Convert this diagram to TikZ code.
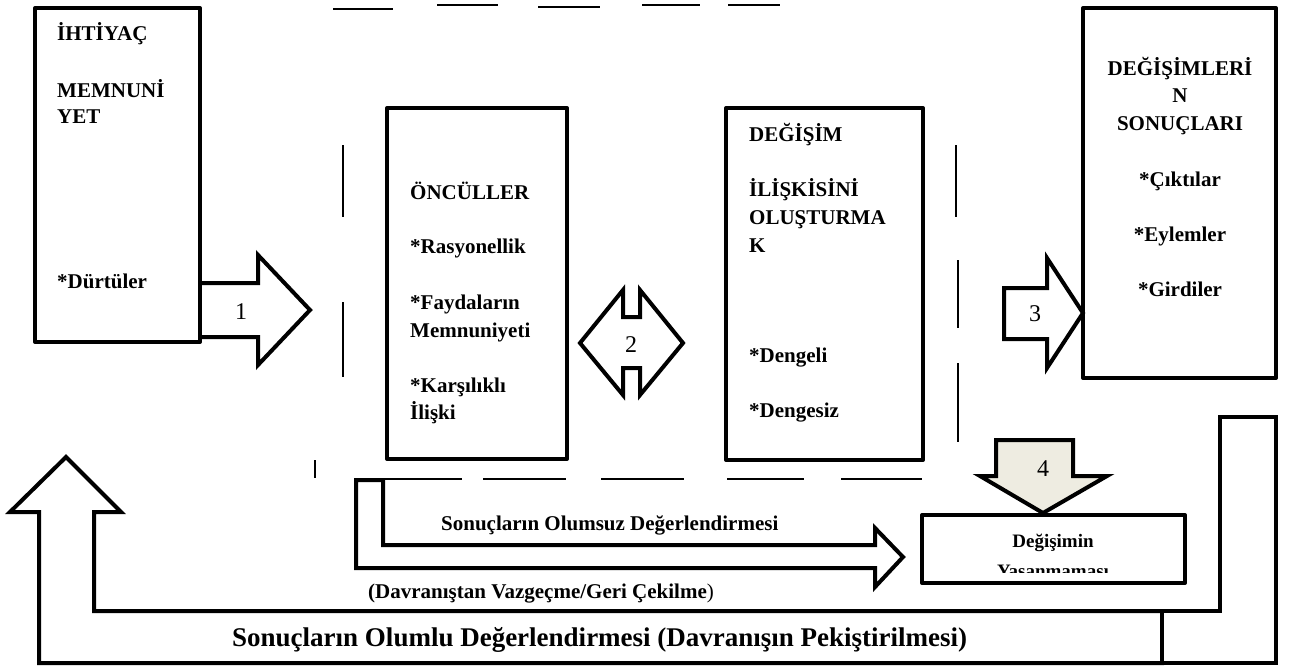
\documentclass[tikz,border=0pt]{standalone}
\usepackage{fontspec}
\setmainfont{Liberation Serif}
\definecolor{beige}{RGB}{238,236,225}
\begin{document}
\begin{tikzpicture}[x=1pt,y=-1pt,
  box/.style={draw, line width=4pt, line join=round, inner sep=0pt, outer sep=0pt, anchor=north west},
  blk/.style={draw, line width=4pt, line join=miter},
  dsh/.style={line width=2pt},
  txt/.style={font=\fontsize{21}{24}\selectfont\bfseries, inner sep=0pt, anchor=base west},
  ctxt/.style={font=\fontsize{21}{24}\selectfont\bfseries, inner sep=0pt, anchor=base},
  num/.style={font=\fontsize{24}{28}\selectfont, inner sep=0pt},
  ltxt/.style={font=\fontsize{21}{24}\selectfont\bfseries, inner sep=0pt, anchor=base west},
]
\useasboundingbox (0,0) rectangle (1289,670);
% boxes
\node[box, minimum width=165pt, minimum height=334pt] (b1) at (35,8) {};
\node[box, minimum width=180pt, minimum height=351pt] (b2) at (387,108) {};
\node[box, minimum width=197pt, minimum height=352pt] (b3) at (726,108) {};
\node[box, minimum width=193pt, minimum height=370pt] (b4) at (1083,8) {};
% dashed frame
\foreach \a/\b/\y in {333/393/9, 437/498/5, 538/600/7, 642/700/5, 728/780/5}
  \draw[dsh] (\a,\y) -- (\b,\y);
\foreach \a/\b/\x in {145/217/343, 302/377/343, 460/478/315, 145/217/956, 260/328/958, 363/442/958}
  \draw[dsh] (\x,\a) -- (\x,\b);
\foreach \a/\b in {385/462, 483/566, 601/684, 727/804, 841/922}
  \draw[dsh] (\a,479) -- (\b,479);
% arrow 1
\draw[blk] (b1.east |- 0,283) -- (258,283) -- (258,255) -- (310,310) -- (258,365) -- (258,337) -- (b1.east |- 0,337);
\node[num] (n1) at (241,312) {1};
% arrow 2
\draw[blk] (580,343) -- (623,290) -- (623,317) -- (640,317) -- (640,290) -- (683,343) -- (640,395) -- (640,368) -- (623,368) -- (623,395) -- cycle;
\node[num] (n2) at (631,345) {2};
% arrow 3
\draw[blk] (1004,288) -- (1047,288) -- (1047,258) -- (1083,313) -- (1047,368) -- (1047,339) -- (1004,339) -- cycle;
\node[num] (n3) at (1035,314) {3};
% box 5 with clipped text
\begin{scope}
  \clip (922,500) rectangle (1185,572);
  \node[font=\fontsize{19}{22}\selectfont\bfseries, inner sep=0pt, anchor=base] (t52) at (1053,577) {Yaşanmaması};
\end{scope}
\node[box, minimum width=263pt, minimum height=68pt] (b5) at (922,515) {};
\node[font=\fontsize{19}{22}\selectfont\bfseries, inner sep=0pt, anchor=base] (t51) at (1053,547) {Değişimin};
% arrow 4
\draw[blk, fill=beige] (996,440) -- (1073,440) -- (1073,476) -- (1107,476) -- (1043,513) -- (980,476) -- (996,476) -- cycle;
\node[num] (n4) at (1043,469) {4};
% negative arrow
\draw[blk] (356,480) -- (383,480) -- (383,545) -- (875,545) -- (875,528) -- (903,557) -- (875,587) -- (875,568) -- (356,568) -- cycle;
\node[ltxt] (neg) at (441,530) {Sonuçların Olumsuz Değerlendirmesi};
\node[ltxt] (neg2) at (368,598) {(Davranıştan Vazgeçme/Geri Çekilme\textmd{)}};
% positive arrow
\draw[blk] (1162,611) -- (94,611) -- (94,512) -- (121,512) -- (66,457) -- (10,512) -- (39,512) -- (39,663) -- (1162,663) -- cycle;
\draw[blk, fill=white] (1162,611) -- (1220,611) -- (1220,417) -- (1276,417) -- (1276,663) -- (1162,663) -- cycle;
\node[font=\fontsize{27}{30}\selectfont\bfseries, inner sep=0pt, anchor=base west] (pos) at (232,646) {Sonuçların Olumlu Değerlendirmesi (Davranışın Pekiştirilmesi)};
% box 1 text
\node[txt] (t11) at (57,40) {İHTİYAÇ};
\node[txt] (t12) at (57,97) {MEMNUNİ};
\node[txt] (t13) at (57,123) {YET};
\node[txt] (t14) at (57,288) {*Dürtüler};
% box 2 text
\node[txt] (t21) at (410,199) {ÖNCÜLLER};
\node[txt] (t22) at (410,253) {*Rasyonellik};
\node[txt] (t23) at (410,309) {*Faydaların};
\node[txt] (t24) at (410,337) {Memnuniyeti};
\node[txt] (t25) at (410,392) {*Karşılıklı};
\node[txt] (t26) at (410,419) {İlişki};
% box 3 text
\node[txt] (t31) at (749,141) {DEĞİŞİM};
\node[txt] (t32) at (749,196) {İLİŞKİSİNİ};
\node[txt] (t33) at (749,224) {OLUŞTURMA};
\node[txt] (t34) at (749,252) {K};
\node[txt] (t35) at (749,362) {*Dengeli};
\node[txt] (t36) at (749,417) {*Dengesiz};
% box 4 text
\node[ctxt] (t41) at (1180,75) {DEĞİŞİMLERİ};
\node[ctxt] (t42) at (1180,102) {N};
\node[ctxt] (t43) at (1180,130) {SONUÇLARI};
\node[ctxt] (t44) at (1180,186) {*Çıktılar};
\node[ctxt] (t45) at (1180,241) {*Eylemler};
\node[ctxt] (t46) at (1180,296) {*Girdiler};
\end{tikzpicture}
\end{document}
